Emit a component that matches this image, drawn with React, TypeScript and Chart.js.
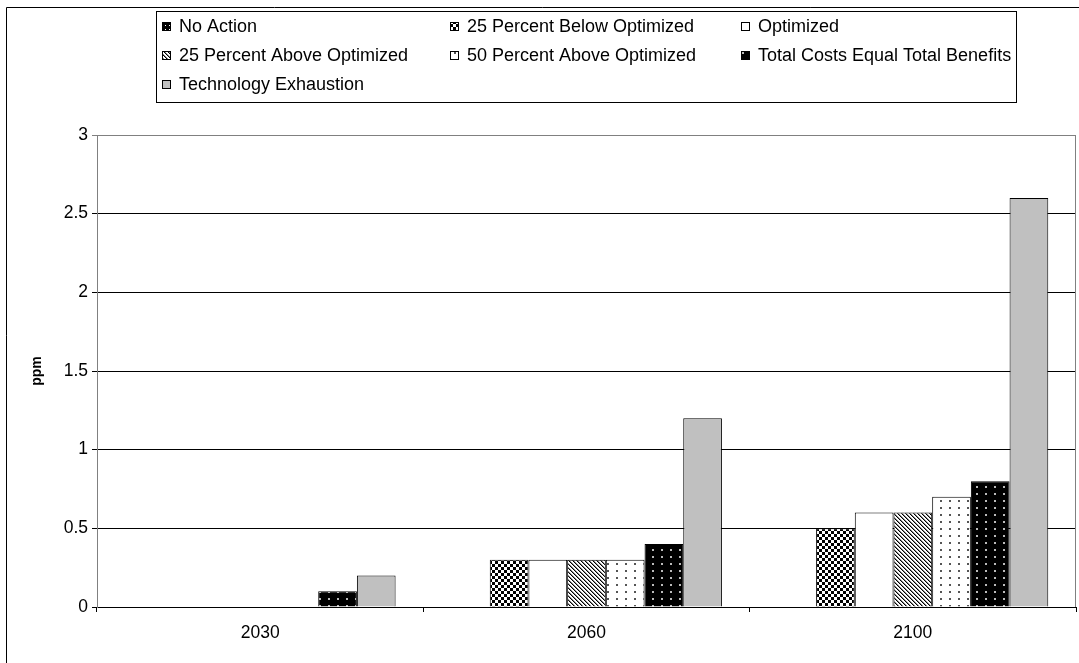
import React, { useEffect, useRef } from 'react';
import { Chart, registerables } from 'chart.js';

Chart.register(...registerables);

// ---- data ----
const categories = ['2030', '2060', '2100'];
const seriesNames = [
  'No Action',
  '25 Percent Below Optimized',
  'Optimized',
  '25 Percent Above Optimized',
  '50 Percent Above Optimized',
  'Total Costs Equal Total Benefits',
  'Technology Exhaustion',
];
const noAction = [0, 0, 0];
const below25 = [0, 0.3, 0.5];
const optimized = [0, 0.3, 0.6];
const above25 = [0, 0.3, 0.6];
const above50 = [0, 0.3, 0.7];
const totalCosts = [0.1, 0.4, 0.8];
const techExhaustion = [0.2, 1.2, 2.6];
const yTicks = [0, 0.5, 1, 1.5, 2, 2.5, 3];
const yTickLabels = ['0', '0.5', '1', '1.5', '2', '2.5', '3'];
const yTitle = 'ppm';

const FONT = '"Liberation Sans", Arial, Helvetica, sans-serif';

type Drawer = (g: CanvasRenderingContext2D) => void;

function makePattern(ctx: CanvasRenderingContext2D, w: number, h: number, draw: Drawer) {
  const c = document.createElement('canvas');
  c.width = w;
  c.height = h;
  const g = c.getContext('2d') as CanvasRenderingContext2D;
  draw(g);
  return ctx.createPattern(c, 'repeat') as CanvasPattern;
}

function buildFills(ctx: CanvasRenderingContext2D) {
  const noActionFill = makePattern(ctx, 4, 4, (g) => {
    g.fillStyle = '#000';
    g.fillRect(0, 0, 4, 4);
    g.fillStyle = '#fff';
    g.fillRect(1, 1, 1, 1);
  });
  const checker = makePattern(ctx, 6, 6, (g) => {
    g.fillStyle = '#fff';
    g.fillRect(0, 0, 6, 6);
    g.fillStyle = '#000';
    g.fillRect(0, 0, 3, 3);
    g.fillRect(3, 3, 3, 3);
  });
  const diagonal = makePattern(ctx, 4, 4, (g) => {
    g.fillStyle = '#fff';
    g.fillRect(0, 0, 4, 4);
    for (let i = 0; i < 4; i++) {
      g.fillStyle = '#000';
      g.fillRect(i, i, 1, 1);
      g.fillStyle = '#888';
      g.fillRect((i + 1) % 4, i, 1, 1);
    }
  });
  const lightDots = makePattern(ctx, 9, 7, (g) => {
    g.fillStyle = '#fff';
    g.fillRect(0, 0, 9, 7);
    g.fillStyle = '#555';
    g.fillRect(4, 3, 2, 2);
  });
  const darkDots = makePattern(ctx, 9, 7, (g) => {
    g.fillStyle = '#000';
    g.fillRect(0, 0, 9, 7);
    g.fillStyle = '#bbb';
    g.fillRect(4, 3, 2, 2);
  });
  return [noActionFill, checker, '#ffffff', diagonal, lightDots, darkDots, '#c0c0c0'];
}

const legendColX = [162, 450, 741];
const legendRowY = [26, 55, 84];

const framePlugin = {
  id: 'frame',
  beforeDraw(chart: any) {
    const ctx = chart.ctx as CanvasRenderingContext2D;
    ctx.save();
    ctx.fillStyle = '#fff';
    ctx.fillRect(0, 0, chart.width, chart.height);
    ctx.strokeStyle = '#000';
    ctx.lineWidth = 1;
    ctx.beginPath();
    ctx.moveTo(6.5, chart.height);
    ctx.lineTo(6.5, 7.5);
    ctx.lineTo(chart.width, 7.5);
    ctx.stroke();
    ctx.restore();
  },
  afterDatasetsDraw(chart: any) {
    const ctx = chart.ctx as CanvasRenderingContext2D;
    const a = chart.chartArea;
    ctx.save();
    ctx.strokeStyle = '#808080';
    ctx.lineWidth = 1;
    ctx.beginPath();
    ctx.moveTo(Math.round(a.right) - 0.5, a.top);
    ctx.lineTo(Math.round(a.right) - 0.5, a.bottom);
    ctx.stroke();
    ctx.restore();
  },
  afterDraw(chart: any) {
    const ctx = chart.ctx as CanvasRenderingContext2D;
    ctx.save();
    ctx.fillStyle = '#fff';
    ctx.fillRect(156.5, 11.5, 860, 91);
    ctx.strokeStyle = '#000';
    ctx.lineWidth = 1;
    ctx.strokeRect(156.5, 11.5, 860, 91);
    ctx.font = `18px ${FONT}`;
    ctx.textBaseline = 'middle';
    ctx.textAlign = 'left';
    chart.data.datasets.forEach((ds: any, i: number) => {
      const col = i % 3;
      const row = Math.floor(i / 3);
      const mx = legendColX[col];
      const my = legendRowY[row];
      ctx.fillStyle = ds.backgroundColor;
      ctx.fillRect(mx, my - 4, 9, 9);
      ctx.strokeStyle = '#000';
      ctx.strokeRect(mx + 0.5, my - 3.5, 8, 8);
      ctx.fillStyle = '#000';
      ctx.fillText(ds.label, mx + 17, my + 1);
    });
    ctx.restore();
  },
};

export default function App() {
  const canvasRef = useRef<HTMLCanvasElement | null>(null);

  useEffect(() => {
    const canvas = canvasRef.current;
    if (!canvas) return;
    const ctx = canvas.getContext('2d') as CanvasRenderingContext2D;
    const fills = buildFills(ctx);
    const values = [noAction, below25, optimized, above25, above50, totalCosts, techExhaustion];

    const chart = new Chart(canvas, {
      type: 'bar',
      data: {
        labels: categories,
        datasets: seriesNames.map((name, i) => ({
          label: name,
          data: values[i],
          backgroundColor: fills[i] as any,
          borderColor: '#000',
          borderWidth: 1,
          borderSkipped: 'bottom',
          categoryPercentage: 0.83,
          barPercentage: 1,
        })),
      },
      options: {
        responsive: false,
        animation: false,
        devicePixelRatio: 1,
        layout: { padding: { top: 135, right: 3, left: 0, bottom: 0 } },
        plugins: {
          legend: { display: false },
          tooltip: { enabled: false },
        },
        scales: {
          x: {
            type: 'category',
            afterFit: (s: any) => {
              s.height = 56;
            },
            grid: {
              display: true,
              offset: true,
              drawOnChartArea: false,
              drawTicks: true,
              tickLength: 5,
              color: '#000',
            },
            border: { display: true, color: '#000', width: 1 },
            ticks: {
              color: '#000',
              font: { family: FONT, size: 17.5 },
              padding: 11,
              maxRotation: 0,
            },
          },
          y: {
            min: 0,
            max: 3,
            afterFit: (s: any) => {
              s.width = 97;
            },
            afterBuildTicks: (s: any) => {
              s.ticks = yTicks.map((v) => ({ value: v }));
            },
            grid: {
              color: (c: any) => (c.tick && c.tick.value === 3 ? '#808080' : '#000'),
              tickLength: 5,
              drawTicks: true,
            },
            border: { display: true, color: '#808080', width: 1 },
            ticks: {
              color: '#000',
              font: { family: FONT, size: 17.5 },
              padding: 4,
              callback: (v: any) => {
                const idx = yTicks.indexOf(Number(v));
                return idx >= 0 ? yTickLabels[idx] : String(v);
              },
            },
            title: {
              display: true,
              text: yTitle,
              color: '#000',
              font: { family: FONT, size: 14, weight: 'bold' },
              padding: { top: 29, bottom: 0 },
            },
          },
        },
      },
      plugins: [framePlugin],
    });

    return () => chart.destroy();
  }, []);

  return (
    <div style={{ position: 'absolute', left: 0, top: 0, width: 1079, height: 663 }}>
      <canvas ref={canvasRef} width={1079} height={663} style={{ display: 'block' }} />
    </div>
  );
}
